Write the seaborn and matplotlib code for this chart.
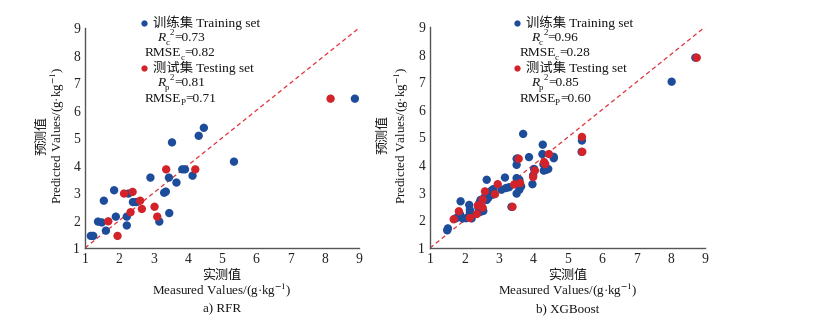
import numpy as np
import pandas as pd
import matplotlib
matplotlib.use("Agg")
import matplotlib.pyplot as plt
import seaborn as sns

# ---------------- data ----------------
rfr_train_x = [1.17, 1.24, 1.38, 1.49, 1.55, 1.61, 1.85, 1.90, 2.22, 2.22, 2.27, 2.40, 2.49,
               2.91, 3.17, 3.31, 3.36, 3.45, 3.46, 3.54, 3.67, 3.84, 3.92, 4.14, 4.32, 4.47,
               5.35, 8.88]
rfr_train_y = [1.44, 1.44, 1.96, 1.93, 2.72, 1.63, 3.10, 2.14, 2.14, 1.82, 2.98, 2.67, 2.67,
               3.56, 1.96, 3.01, 3.05, 3.56, 2.27, 4.84, 3.38, 3.86, 3.86, 3.63, 5.08, 5.37,
               4.14, 6.43]
rfr_test_x = [1.68, 1.95, 2.14, 2.39, 2.33, 2.61, 2.66, 3.03, 3.11, 3.37, 4.22, 8.17]
rfr_test_y = [1.97, 1.44, 2.98, 3.04, 2.30, 2.72, 2.42, 2.50, 2.14, 3.86, 3.86, 6.43]

xgb_train_x = [1.50, 1.52, 1.74, 1.81, 1.87, 1.89, 1.95, 2.05, 2.14, 2.16, 2.16, 2.21, 2.41,
               2.43, 2.47, 2.52, 2.55, 2.45, 2.58, 2.65, 2.65, 2.65, 2.70, 2.79, 2.84, 2.82,
               3.08, 3.18, 3.21, 3.30, 3.37, 3.52, 3.52, 3.55, 3.52, 3.60, 3.62, 3.60, 3.52,
               3.65, 3.71, 3.88, 3.98, 4.00, 4.03, 4.27, 4.28, 4.30, 4.31, 4.38, 4.44, 4.60,
               4.60, 5.42, 5.41, 8.03, 8.72]
xgb_train_y = [1.64, 1.71, 2.07, 2.11, 2.23, 2.69, 2.07, 2.08, 2.56, 2.38, 2.27, 2.07, 2.44,
               2.62, 2.74, 2.44, 2.34, 2.30, 2.83, 2.74, 2.99, 3.47, 2.82, 3.08, 3.13, 2.93,
               3.11, 3.55, 3.17, 3.20, 2.49, 4.01, 4.23, 4.24, 3.53, 3.47, 3.26, 3.11, 2.97,
               3.23, 5.13, 4.29, 3.31, 3.63, 3.86, 4.40, 4.74, 4.03, 3.80, 3.83, 3.86, 4.25,
               4.30, 4.89, 4.48, 7.02, 7.89]
xgb_test_x = [1.69, 1.84, 2.16, 2.36, 2.39, 2.53, 2.53, 2.60, 2.89, 2.97, 3.40, 3.45, 3.58,
              3.62, 4.00, 4.05, 4.32, 4.35, 4.46, 5.42, 5.43, 8.76]
xgb_test_y = [2.04, 2.33, 2.09, 2.23, 2.54, 2.75, 2.46, 3.05, 2.95, 3.31, 2.49, 3.30, 4.23,
              3.35, 3.57, 3.80, 4.11, 4.04, 4.40, 5.02, 4.48, 7.89]

diag = [1, 9]
ticks = [1, 2, 3, 4, 5, 6, 7, 8, 9]

set_names = ["训练集 Training set", "测试集 Testing set"]
rfr_stats = ["0.73", "0.82", "0.81", "0.71"]
xgb_stats = ["0.96", "0.28", "0.85", "0.60"]
panel_titles = ["a) RFR", "b) XGBoost"]
xlabel_cn = "实测值"
xlabel_en = "Measured Values/(g·kg$^{-1}$)"
ylabel_cn = "预测值"
ylabel_en = "Predicted Values/(g·kg$^{-1}$)"

# ---------------- style ----------------
sns.set_style("white")
plt.rcParams["font.family"] = ["Liberation Serif", "Noto Sans CJK SC"]
plt.rcParams["mathtext.fontset"] = "stix"
plt.rcParams["axes.unicode_minus"] = False

BLUE = "#1c4c9a"
RED = "#d2232a"
TXT = "#151515"
LFS = 9.6     # annotation block font size
SFS = 6.4     # sub/superscript size
LBS = 9.4     # axis label font size
TKS = 9.8     # tick label size

fig = plt.figure(figsize=(8.13, 3.30), dpi=100)
W, H = 813, 330


def make_df(tx, ty, sx, sy):
    return pd.DataFrame({
        "measured": list(tx) + list(sx),
        "predicted": list(ty) + list(sy),
        "set": ["train"] * len(tx) + ["test"] * len(sx),
    })


def stat_line(ax, x, y, head, italic, sub, sup, tail):
    """Write e.g. R_c^2=0.73 as chained small texts (baseline aligned)."""
    base = ax.text(x, y, head, transform=ax.transAxes, fontsize=LFS,
                   style="italic" if italic else "normal", va="baseline",
                   ha="left", color=TXT)
    d = 0.216 * LFS  # descent of the head text bbox (points)
    prev = base
    prev = ax.annotate(sub, xy=(1, 0), xycoords=(prev, base),
                       xytext=(0.1 if italic else -0.4, d - 2.4), textcoords="offset points",
                       fontsize=SFS, va="baseline", ha="left", color=TXT)
    if sup:
        prev = ax.annotate(sup, xy=(1, 0), xycoords=(prev, base),
                           xytext=(0.2, d + 4.3), textcoords="offset points",
                           fontsize=SFS, va="baseline", ha="left", color=TXT)
    ax.annotate(tail, xy=(1, 0), xycoords=(prev, base),
                xytext=(0.0, d), textcoords="offset points",
                fontsize=LFS, va="baseline", ha="left", color=TXT)


panels = [
    dict(box=(85, 359, 28, 248), df=make_df(rfr_train_x, rfr_train_y, rfr_test_x, rfr_test_y),
         stats=rfr_stats, title=panel_titles[0], mk=143.5, tx=153, rx=157, ex=145,
         ycn=42, yen=58),
    dict(box=(430, 705, 27, 248), df=make_df(xgb_train_x, xgb_train_y, xgb_test_x, xgb_test_y),
         stats=xgb_stats, title=panel_titles[1], mk=517.3, tx=526, rx=530.7, ex=519.3,
         ycn=383, yen=402),
]

for p in panels:
    x0, x1, yt, yb = p["box"]
    ax = fig.add_axes([x0 / W, (H - yb) / H, (x1 - x0) / W, (yb - yt) / H])
    aw, ah = x1 - x0, yb - yt
    fx = lambda px: (px - x0) / aw
    fy = lambda py: (yb - py) / ah

    sns.lineplot(x=diag, y=diag, ax=ax, color="#e0303a", lw=0.9,
                 linestyle=(0, (3.5, 2.5)), zorder=1)
    sns.scatterplot(data=p["df"], x="measured", y="predicted", hue="set",
                    palette={"train": BLUE, "test": RED}, hue_order=["train", "test"],
                    s=36, linewidth=0, legend=False, ax=ax, zorder=3)

    ax.set_xlim(1, 9)
    ax.set_ylim(1, 9)
    ax.set_xticks(ticks)
    ax.set_yticks(ticks)
    ax.set_xlabel("")
    ax.set_ylabel("")
    for s in ["top", "right"]:
        ax.spines[s].set_visible(False)
    for s in ["left", "bottom"]:
        ax.spines[s].set_color("#555555")
        ax.spines[s].set_linewidth(1.0)
    ax.tick_params(direction="in", length=4, width=0.9, color="#555555",
                   labelsize=TKS, labelcolor="#222222", pad=3.5)

    # legend-like annotation block
    ys = [23, 37.5, 52.5, 68, 82.5, 98]
    bl = 3.8
    st = p["stats"]
    ax.plot([fx(p["mk"])], [fy(ys[0])], "o", color=BLUE, ms=4.5, mec="none",
            transform=ax.transAxes, clip_on=False)
    ax.plot([fx(p["mk"])], [fy(ys[3])], "o", color=RED, ms=4.5, mec="none",
            transform=ax.transAxes, clip_on=False)
    kw = dict(transform=ax.transAxes, fontsize=LFS, va="baseline", ha="left", color=TXT)
    ax.text(fx(p["tx"]), fy(ys[0] + bl), set_names[0], **kw)
    stat_line(ax, fx(p["rx"]), fy(ys[1] + bl), "R", True, "c", "2", "=" + st[0])
    stat_line(ax, fx(p["ex"]), fy(ys[2] + bl), "RMSE", False, "c", None, "=" + st[1])
    ax.text(fx(p["tx"]), fy(ys[3] + bl), set_names[1], **kw)
    stat_line(ax, fx(p["rx"]), fy(ys[4] + bl), "R", True, "p", "2", "=" + st[2])
    stat_line(ax, fx(p["ex"]), fy(ys[5] + bl), "RMSE", False, "P", None, "=" + st[3])

    # axis labels
    ck = dict(transform=ax.transAxes, ha="center", va="center", color=TXT)
    ax.text(0.5, fy(275), xlabel_cn, fontsize=LBS, **ck)
    ax.text(0.5, fy(291), xlabel_en, fontsize=LBS, **ck)
    ax.text(0.5, fy(309), p["title"], fontsize=LBS, **ck)
    ax.text(fx(p["ycn"]), 0.512, ylabel_cn, fontsize=LBS, rotation=90, **ck)
    ax.text(fx(p["yen"]), 0.512, ylabel_en, fontsize=LBS, rotation=90, **ck)

fig.savefig("out.png", dpi=100, facecolor="white")
